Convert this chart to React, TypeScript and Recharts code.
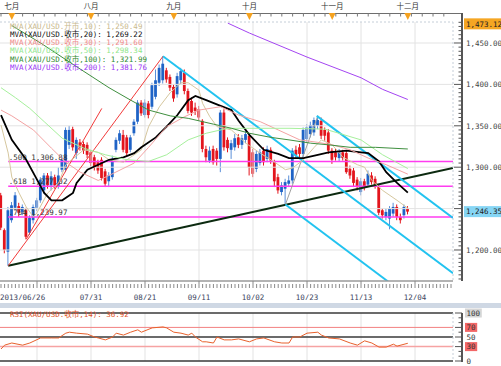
import React from 'react';
import { ComposedChart, Bar, Line, XAxis, YAxis, ReferenceLine } from 'recharts';

const MONO = "'DejaVu Sans Mono', 'Noto Sans CJK SC', monospace";
const CJK = "'Noto Sans CJK SC', sans-serif";

// daily XAU/USD bars, index 0 = 2013/06/26
const opens = [
  1266, 1224, 1198, 1236, 1251, 1253, 1246, 1248, 1221, 1236, 1251, 1260, 1272, 1290, 1278, 1288, 1277, 1297, 1297, 1327,
  1346, 1317, 1330, 1328, 1327, 1318, 1312, 1306, 1309, 1295, 1283, 1288, 1321, 1332, 1339, 1336, 1321, 1341, 1355, 1378,
  1363, 1377, 1373, 1385, 1402, 1405, 1417, 1409, 1397, 1388, 1405, 1414, 1392, 1380, 1372, 1370, 1356, 1322, 1308, 1322,
  1320, 1310, 1366, 1333, 1321, 1324, 1336, 1327, 1333, 1338, 1318, 1298, 1305, 1320, 1310, 1321, 1306, 1288, 1270, 1274,
  1280, 1284, 1321, 1324, 1316, 1334, 1340, 1342, 1350, 1356, 1345, 1342, 1320, 1318, 1311, 1318, 1317, 1298, 1296, 1285,
  1270, 1283, 1279, 1290, 1286, 1277, 1248, 1240, 1238, 1244, 1252, 1240, 1242, 1250
];
const highs = [
  1269, 1226, 1252, 1258, 1270, 1257, 1255, 1251, 1242, 1255, 1263, 1288, 1293, 1293, 1295, 1291, 1300, 1312, 1348, 1350,
  1349, 1336, 1334, 1331, 1330, 1321, 1315, 1309, 1312, 1298, 1294, 1314, 1336, 1345, 1345, 1339, 1339, 1358, 1381, 1381,
  1382, 1380, 1402, 1418, 1424, 1434, 1420, 1412, 1400, 1414, 1420, 1418, 1395, 1384, 1378, 1374, 1358, 1326, 1325, 1326,
  1323, 1369, 1370, 1336, 1333, 1340, 1340, 1339, 1344, 1341, 1322, 1320, 1322, 1324, 1326, 1324, 1309, 1292, 1282, 1286,
  1290, 1323, 1326, 1328, 1348, 1352, 1355, 1360, 1362, 1360, 1348, 1346, 1323, 1322, 1322, 1321, 1320, 1302, 1299, 1288,
  1287, 1286, 1296, 1294, 1289, 1279, 1250, 1250, 1253, 1257, 1255, 1244, 1255, 1253
];
const lows = [
  1224, 1196, 1181, 1233, 1248, 1240, 1242, 1213, 1218, 1232, 1247, 1257, 1268, 1274, 1272, 1274, 1274, 1294, 1294, 1322,
  1320, 1310, 1320, 1316, 1311, 1301, 1296, 1292, 1284, 1276, 1276, 1285, 1318, 1328, 1318, 1313, 1318, 1338, 1352, 1362,
  1360, 1359, 1370, 1382, 1398, 1401, 1402, 1392, 1379, 1384, 1400, 1388, 1365, 1362, 1363, 1356, 1318, 1306, 1305, 1303,
  1302, 1294, 1320, 1318, 1310, 1320, 1323, 1322, 1329, 1290, 1288, 1294, 1302, 1302, 1306, 1304, 1276, 1268, 1266, 1255,
  1276, 1280, 1310, 1312, 1312, 1330, 1336, 1338, 1346, 1334, 1332, 1316, 1304, 1308, 1307, 1308, 1292, 1286, 1276, 1272,
  1266, 1272, 1276, 1279, 1274, 1242, 1238, 1236, 1225, 1240, 1236, 1232, 1238, 1243
];
const closes = [
  1227, 1200, 1248, 1254, 1266, 1245, 1252, 1216, 1239, 1252, 1260, 1285, 1290, 1278, 1289, 1278, 1290, 1309, 1345, 1345,
  1324, 1333, 1324, 1320, 1315, 1305, 1300, 1296, 1287, 1280, 1290, 1310, 1333, 1341, 1321, 1317, 1336, 1355, 1378, 1365,
  1378, 1363, 1399, 1405, 1420, 1425, 1406, 1396, 1383, 1410, 1416, 1392, 1368, 1366, 1368, 1360, 1322, 1312, 1320, 1306,
  1310, 1366, 1324, 1323, 1329, 1335, 1327, 1335, 1340, 1300, 1292, 1316, 1318, 1306, 1322, 1308, 1283, 1272, 1278, 1282,
  1284, 1320, 1315, 1316, 1345, 1348, 1351, 1357, 1357, 1338, 1338, 1320, 1309, 1312, 1318, 1311, 1294, 1290, 1281, 1276,
  1283, 1276, 1292, 1282, 1277, 1245, 1242, 1246, 1250, 1252, 1240, 1236, 1252, 1246.35
];

// moving averages: [bar index, value]
const ma10: [number, number][] = [
  [0, 1351], [2, 1317], [3, 1288], [5, 1269], [7, 1252], [9, 1240], [10, 1245], [13, 1269], [16, 1281], [18, 1303],
  [23, 1321], [27, 1318], [30, 1309], [34, 1306], [36, 1312], [39, 1321], [41, 1349], [44, 1373], [47, 1390], [50, 1402],
  [52, 1402], [55, 1393], [56, 1377], [58, 1361], [60, 1349], [62, 1347], [64, 1345], [68, 1329], [72, 1317], [76, 1306],
  [79, 1297], [81, 1299], [84, 1309], [87, 1324], [89, 1333], [92, 1327], [95, 1312], [99, 1303], [101, 1300], [103, 1284],
  [106, 1272], [110, 1260], [113, 1250.49]
];
const ma20: [number, number][] = [
  [0, 1363], [3, 1333], [7, 1309], [10, 1285], [12, 1269], [14, 1260], [17, 1260], [20, 1269], [21, 1281], [24, 1297],
  [27, 1303], [30, 1309], [34, 1312], [37, 1317], [39, 1324], [43, 1336], [46, 1349], [49, 1363], [52, 1381], [54, 1386],
  [57, 1381], [61, 1374], [64, 1369], [66, 1356], [69, 1339], [73, 1321], [77, 1316], [80, 1311], [84, 1311], [88, 1315],
  [91, 1318], [96, 1320], [100, 1318], [102, 1317], [105, 1307], [107, 1294], [110, 1281], [113, 1269.22]
];
const ma30: [number, number][] = [
  [0, 1369], [3, 1362], [9, 1345], [14, 1323], [18, 1306], [22, 1294], [27, 1284], [30, 1290], [37, 1305], [41, 1324],
  [46, 1349], [51, 1361], [55, 1369], [61, 1373], [66, 1363], [72, 1355], [77, 1345], [83, 1333], [88, 1330], [92, 1327],
  [97, 1321], [102, 1311], [107, 1303], [113, 1291.6]
];
const ma50: [number, number][] = [
  [0, 1396], [4, 1384], [8, 1371], [12, 1355], [17, 1335], [23, 1323], [29, 1315], [35, 1309], [41, 1307], [46, 1315],
  [52, 1333], [57, 1341], [63, 1347], [69, 1347], [80, 1347], [90, 1346], [100, 1333], [106, 1315], [113, 1298.34]
];
const ma100: [number, number][] = [
  [3, 1471], [11, 1450], [19, 1427], [30, 1396], [36, 1381], [41, 1369], [47, 1362], [52, 1359], [59, 1352], [64, 1347],
  [69, 1341], [75, 1336], [80, 1333], [86, 1329], [91, 1327], [97, 1324], [104, 1324], [113, 1321.99]
];
const ma200: [number, number][] = [[63, 1474], [69, 1462], [85, 1433], [100, 1408], [106, 1394], [113, 1381.76]];

const rsi14: [number, number][] = [
  [0, 25], [1, 33], [3, 37.5], [6, 33], [8, 37.5], [11, 48], [14, 48], [16, 48], [18, 58], [19, 60], [21, 58], [24, 56],
  [26, 50], [27, 48], [29, 44], [31, 50], [32, 58], [34, 54], [36, 60], [38, 65], [39, 60], [42, 69], [45, 71], [46, 69],
  [48, 60], [50, 58], [52, 54], [53, 58], [54, 50], [56, 40], [57, 40], [59, 37.5], [60, 50], [62, 44], [64, 44], [66, 46],
  [69, 40], [71, 46], [73, 48], [76, 40], [78, 37.5], [80, 37.5], [81, 50], [83, 50], [85, 58], [88, 60], [89, 54], [91, 48],
  [94, 46], [97, 37.5], [99, 33], [101, 42], [103, 37.5], [105, 29], [107, 29], [109, 35], [110, 31], [113, 36.92]
];

const maKeys = ['ma10', 'ma20', 'ma30', 'ma50', 'ma100', 'ma200'];
const maPoints = [ma10, ma20, ma30, ma50, ma100, ma200];
const maColors = ['#d6c79e', '#000000', '#f4a3a3', '#a6f09c', '#3f8f3f', '#a445f2'];
const maWidths = [1, 1.8, 1, 1, 1, 1];
const legendLabels = [
  'MVA(XAU/USD.开市,10): 1,250.49',
  'MVA(XAU/USD.收市,20): 1,269.22',
  'MVA(XAU/USD.收市,30): 1,291.60',
  'MVA(XAU/USD.收市,50): 1,298.34',
  'MVA(XAU/USD.收市,100): 1,321.99',
  'MVA(XAU/USD.收市,200): 1,381.76'
];
const legendColors = ['#c9b98c', '#111111', '#f08a8a', '#8fe68a', '#2f8a2f', '#9a36f5'];

const fibTags = ['.500', '.618', '.764'];
const fibValues = [1306.88, 1277.02, 1239.97];

// hand-drawn tools: [x1, y1, x2, y2] in bar index / price
const cyanLines = [[45, 1434, 125.55, 1172], [79, 1255, 107.5, 1162], [87.7, 1362, 125.55, 1238.6]];
const redLines = [[2, 1181, 45, 1434], [7, 1213, 28, 1371]];
const greyLines = [[79, 1255, 88, 1362]];
const trendLine = [2, 1181, 125.55, 1299];

const gridTicks = [10, 25, 40, 55, 70, 85, 100, 115];
const dateTicks = [0, 25, 40, 55, 70, 85, 100, 115];
const dateLabels = ['2013/06/26', '07/31', '08/21', '09/11', '10/02', '10/23', '11/13', '12/04'];
const monthStarts = [3, 25, 48, 69, 92, 113];
const monthNames = ['七月', '八月', '九月', '十月', '十一月', '十二月'];
const priceGrid = [1200, 1250, 1300, 1350, 1400, 1450];
const topPrice = 1473.12;
const lastPrice = 1246.35;
const rsiLevels = [100, 70, 50, 30, 0];
const rsiLevelColors = ['#3a3a3a', '#f28080', '#3a3a3a', '#f6a3a3', '#3a3a3a'];

const X_DOMAIN: [number, number] = [-0.28, 125.55];
const Y_DOMAIN: [number, number] = [1162.56, 1475.36];

const bars: any[] = opens.map((o, i) => ({ i, o, h: highs[i], l: lows[i], c: closes[i], hl: [lows[i], highs[i]] }));
maPoints.forEach((pts, k) => pts.forEach(([i, v]) => { bars[i][maKeys[k]] = v; }));
const rsiRows = rsi14.map(([i, v]) => ({ i, v }));

const barTicks = Array.from({ length: 126 }, (_, i) => i);
const topTicks = Array.from(new Set([...Array.from({ length: 42 }, (_, k) => k * 3), ...monthStarts])).sort((a, b) => a - b);
const priceTicks = [...Array.from({ length: 63 }, (_, k) => 1165 + k * 5), lastPrice, topPrice];
const rsiTicks = Array.from({ length: 11 }, (_, k) => k * 10);

const fmt = (v: number) => v.toLocaleString('en-US', { minimumFractionDigits: 2, maximumFractionDigits: 2 });

function Candle(props: any) {
  const { x, y, width, height, payload } = props;
  if (!payload) return null;
  const { o, c, h, l } = payload;
  const top = height < 0 ? y + height : y;
  const span = Math.abs(height);
  const k = h > l ? span / (h - l) : 0;
  const cx = x + width / 2;
  const bTop = top + (h - Math.max(o, c)) * k;
  const bBot = top + (h - Math.min(o, c)) * k;
  const color = c >= o ? '#1f63c6' : '#e3151d';
  return (
    <g>
      <line x1={cx} x2={cx} y1={top} y2={top + span} stroke={c >= o ? '#5a8fd8' : '#e3151d'} strokeWidth={1} />
      <rect x={cx - 1.4} y={bTop} width={2.8} height={Math.max(bBot - bTop, 1)} fill={color} />
    </g>
  );
}

function TopTick(props: any) {
  const { x, payload } = props;
  const mi = monthStarts.indexOf(payload.value);
  if (mi >= 0) {
    return (
      <g>
        <polygon points={`${x - 3.5},13 ${x + 3.5},13 ${x},20`} fill="#f5a21f" />
        <text x={x} y={9} textAnchor="middle" fontSize={7.5} fontFamily={CJK} fill="#333">{monthNames[mi]}</text>
      </g>
    );
  }
  return <line x1={x} x2={x} y1={13} y2={16.5} stroke="#777" />;
}

function BottomTick(props: any) {
  const { x, y, payload } = props;
  const v = payload.value;
  const major = gridTicks.includes(v);
  const li = dateTicks.indexOf(v);
  return (
    <g>
      <line x1={x} x2={x} y1={y + (major ? 0 : 3)} y2={y + 7} stroke="#8a8a8a" />
      {li >= 0 && (
        <text x={li === 0 ? x - 1 : x} y={y + 18.5} textAnchor={li === 0 ? 'start' : 'middle'} fontSize={7.5} fontFamily={MONO} fill="#3c4660">
          {dateLabels[li]}
        </text>
      )}
    </g>
  );
}

function PriceTick(props: any) {
  const { x, y, payload } = props;
  const v = payload.value;
  if (v === topPrice || v === lastPrice) {
    const bg = v === topPrice ? '#f5a623' : '#86d6f5';
    return (
      <g>
        <rect x={x + 11} y={y - 5.5} width={40} height={11} fill={bg} />
        <text x={x + 13} y={y + 2.8} fontSize={7.5} fontFamily={MONO} fill="#222">{fmt(v)}</text>
      </g>
    );
  }
  const major = v % 50 === 0;
  return (
    <g>
      <line x1={x + (major ? 1 : 5.5)} x2={x + 9} y1={y} y2={y} stroke="#555" />
      {major && v !== 1250 && (
        <text x={x + 13} y={y + 2.8} fontSize={7.5} fontFamily={MONO} fill="#444">{fmt(v)}</text>
      )}
    </g>
  );
}

function RsiTick(props: any) {
  const { x, y, payload } = props;
  const v = payload.value;
  const shown = [0, 30, 50, 70, 100].includes(v);
  const bg = v === 70 || v === 30 ? '#f26767' : v === 100 ? '#d6d6d6' : null;
  const label = String(v);
  return (
    <g>
      <line x1={x + (shown ? 2 : 5.5)} x2={x + 9} y1={y} y2={y} stroke="#555" />
      {shown && bg && <rect x={x + 12} y={y - 4.5} width={label.length * 4.6 + 3} height={9} fill={bg} />}
      {shown && (
        <text x={x + 13.5} y={y + 2.8} fontSize={7.5} fontFamily={MONO} fill="#333">{label}</text>
      )}
    </g>
  );
}

function FibLabel(tag: string, value: number) {
  return (p: any) => (
    <text x={p.viewBox.x + 0.5} y={p.viewBox.y - 2} fontSize={7.5} fontFamily={MONO} fill="#333">
      {`${tag} ${fmt(value)}`}
    </text>
  );
}

const seg = (s: number[]) => [{ x: s[0], y: s[1] }, { x: s[2], y: s[3] }] as any;

export default function App() {
  return (
    <div style={{ position: 'fixed', left: 0, top: 0, width: 501, height: 366, background: '#fff', overflow: 'hidden', fontFamily: MONO }}>
      <div style={{ position: 'absolute', left: 0, top: 12.5, width: 462, height: 1.2, background: '#6e6e6e' }} />
      <div style={{ position: 'absolute', left: 461, top: 13, width: 1.5, height: 268, background: '#555' }} />
      <div style={{ position: 'absolute', left: 0, top: 302.5, width: 501, height: 5, background: '#cfd8e4' }} />
      <div style={{ position: 'absolute', left: 461, top: 312.5, width: 1.5, height: 49, background: '#555' }} />

      <div style={{ position: 'absolute', left: 0, top: 0 }}>
        <ComposedChart width={501} height={300} data={bars} margin={{ top: 0, right: 0, bottom: 0, left: 0 }}>
          <XAxis xAxisId="top" orientation="top" dataKey="i" type="number" domain={X_DOMAIN} ticks={topTicks} interval={0}
            height={22} tickLine={false} tickSize={0} tickMargin={0} axisLine={{ stroke: '#c5ced8', strokeDasharray: '2 2' }} tick={<TopTick />} />
          <XAxis dataKey="i" type="number" domain={X_DOMAIN} ticks={barTicks} interval={0} height={19}
            tickLine={false} tickSize={0} tickMargin={0} axisLine={{ stroke: '#9a9a9a', strokeWidth: 1.5 }} tick={<BottomTick />} />
          <YAxis orientation="right" type="number" domain={Y_DOMAIN} ticks={priceTicks} interval={0} width={48}
            tickLine={false} tickSize={0} tickMargin={0} axisLine={{ stroke: '#c5ced8', strokeDasharray: '2 2' }} tick={<PriceTick />} allowDataOverflow />

          {gridTicks.map((t) => <ReferenceLine key={'gx' + t} x={t} stroke="#e3e3e3" />)}
          {priceGrid.map((p) => <ReferenceLine key={'gy' + p} y={p} stroke="#e3e3e3" />)}

          {fibValues.map((v, k) => (
            <ReferenceLine key={'fib' + k} segment={seg([2, v, 125.55, v])} stroke="#ff3cf0" strokeWidth={1.5} ifOverflow="hidden" label={FibLabel(fibTags[k], v)} />
          ))}

          <ReferenceLine segment={seg(trendLine)} stroke="#0c2a10" strokeWidth={2} ifOverflow="hidden" />
          {redLines.map((s, k) => <ReferenceLine key={'r' + k} segment={seg(s)} stroke="#f23a3a" strokeWidth={1} ifOverflow="hidden" />)}
          {greyLines.map((s, k) => <ReferenceLine key={'g' + k} segment={seg(s)} stroke="#a0a0a0" strokeWidth={1} ifOverflow="hidden" />)}
          {cyanLines.map((s, k) => <ReferenceLine key={'c' + k} segment={seg(s)} stroke="#22c3f0" strokeWidth={2} ifOverflow="hidden" />)}

          {maKeys.map((key, k) => (
            <Line key={key} dataKey={key} type="linear" stroke={maColors[k]} strokeWidth={maWidths[k]} dot={false}
              activeDot={false} connectNulls isAnimationActive={false} />
          ))}

          <Bar dataKey="hl" barSize={3} shape={<Candle />} isAnimationActive={false} />
        </ComposedChart>
      </div>

      <div style={{ position: 'absolute', left: 10, top: 22.5, fontSize: 7.5, lineHeight: '8.33px', whiteSpace: 'pre' }}>
        {legendLabels.map((t, k) => (
          <div key={t} style={{ color: legendColors[k] }}>{t}</div>
        ))}
      </div>

      <div style={{ position: 'absolute', left: 0, top: 300 }}>
        <ComposedChart width={501} height={66} data={rsiRows} margin={{ top: 13, right: 0, bottom: 5, left: 0 }}>
          <XAxis dataKey="i" type="number" domain={X_DOMAIN} hide />
          <YAxis orientation="right" type="number" domain={[0, 100]} ticks={rsiTicks} interval={0} width={48}
            tickLine={false} tickSize={0} tickMargin={0} axisLine={{ stroke: '#c5ced8', strokeDasharray: '2 2' }} tick={<RsiTick />} />
          {gridTicks.map((t) => <ReferenceLine key={'rx' + t} x={t} stroke="#e3e3e3" />)}
          {rsiLevels.map((v, k) => (
            <ReferenceLine key={'lv' + v} y={v} stroke={rsiLevelColors[k]} strokeWidth={v === 70 ? 1 : 1.5} />
          ))}
          <Line dataKey="v" type="linear" stroke="#e8612c" strokeWidth={1} dot={false} activeDot={false} connectNulls isAnimationActive={false} />
        </ComposedChart>
      </div>

      <div style={{ position: 'absolute', left: 10, top: 311, fontSize: 7.5, lineHeight: '8px', whiteSpace: 'pre', color: '#e0552b' }}>
        RSI(XAU/USD.收市,14): 36.92
      </div>
    </div>
  );
}
